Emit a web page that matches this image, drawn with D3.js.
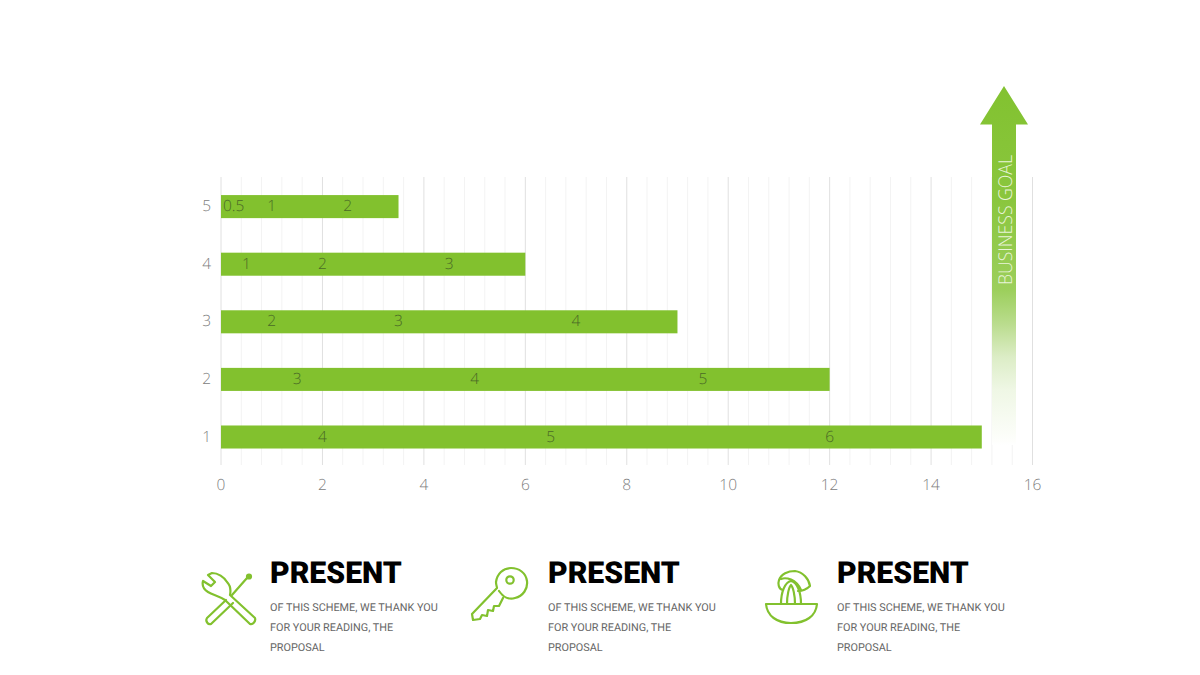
<!DOCTYPE html>
<html><head><meta charset="utf-8">
<script src="https://cdn.jsdelivr.net/npm/d3@7"></script>
<style>html,body{margin:0;background:#fff}svg{display:block;text-rendering:geometricPrecision}text{opacity:.995}</style></head>
<body><svg id="c" width="1200" height="675"></svg>
<script>
const categories=["1","2","3","4","5"];
const seriesA=[4,3,2,1,0.5];
const seriesB=[5,4,3,2,1];
const seriesC=[6,5,4,3,2];
const majorTicks=[0,2,4,6,8,10,12,14,16];
const minorTicks=d3.range(0,81).filter(i=>i%2===0).map(i=>i/5);
const arrowLabel="BUSINESS GOAL";
const panelTitles=["PRESENT","PRESENT","PRESENT"];
const panelLines=["OF THIS SCHEME, WE THANK YOU","FOR YOUR READING, THE","PROPOSAL"];

const GREEN="#82c12e";
const svg=d3.select("#c");
const x=d3.scaleLinear().domain([0,16]).range([221,1032.5]);
const y=d3.scaleBand().domain(categories).range([465.8,177.8]).paddingInner(0.6).paddingOuter(0.3);
const fontL="'Open Sans',sans-serif";

const defs=svg.append("defs");
const g=defs.append("linearGradient").attr("id","fade").attr("gradientUnits","userSpaceOnUse")
  .attr("x1",0).attr("x2",0).attr("y1",86).attr("y2",445);
[[86,"#82c230"],[200,"#8ac63e"],[290,"#9ccf5c"],[323,"#b9dc8c"],[357,"#dcedc6"],[390,"#eff7e5"],[440,"#fdfefb"],[445,"#ffffff"]]
 .forEach(s=>g.append("stop").attr("offset",(s[0]-86)/359).attr("stop-color",s[1]));

// grid
svg.append("g").selectAll("line").data(minorTicks).join("line")
  .attr("x1",d=>x(d)).attr("x2",d=>x(d)).attr("y1",177).attr("y2",465)
  .attr("stroke",d=>majorTicks.includes(d)?"#e0e0e0":"#f3f3f3").attr("stroke-width",1);

// arrow
svg.append("path").attr("d","M1004,86 L1028,124.5 L1016,124.5 L1016,445 L992,445 L992,124.5 L980,124.5 Z").attr("fill","url(#fade)");
svg.append("text").attr("transform","translate(1011.5,285) rotate(-90)").attr("font-family",fontL).attr("font-weight",300)
  .attr("font-size",19).attr("fill","#e9f5d8").attr("textLength",130).attr("lengthAdjust","spacingAndGlyphs").text(arrowLabel);

// bars
const totals=categories.map((c,i)=>seriesA[i]+seriesB[i]+seriesC[i]);
svg.append("g").selectAll("rect").data(categories).join("rect")
  .attr("x",x(0)).attr("y",c=>y(c)).attr("height",y.bandwidth())
  .attr("width",(c,i)=>x(totals[i])-x(0)).attr("fill",GREEN);

// segment labels
const rows=categories.flatMap((c,i)=>{
  let s=0;
  return [seriesA[i],seriesB[i],seriesC[i]].map(v=>{const m=s+v/2;s+=v;return {c,v,m};});
});
svg.append("g").selectAll("text").data(rows).join("text")
  .attr("x",d=>x(d.m)).attr("y",d=>y(d.c)+y.bandwidth()/2+4.5)
  .attr("text-anchor","middle").attr("font-family",fontL).attr("font-weight",300).attr("font-size",15.5)
  .attr("fill","#4a6a26").text(d=>d.v);

// axes labels
svg.append("g").selectAll("text").data(majorTicks).join("text")
  .attr("x",d=>x(d)).attr("y",490).attr("text-anchor","middle").attr("font-family",fontL).attr("font-weight",300)
  .attr("font-size",15.5).attr("fill","#808080").text(d=>d);
svg.append("g").selectAll("text").data(categories).join("text")
  .attr("x",211).attr("y",c=>y(c)+y.bandwidth()/2+4.5).attr("text-anchor","end").attr("font-family",fontL).attr("font-weight",300)
  .attr("font-size",15.5).attr("fill","#808080").text(c=>c);

// panels
const panelX=[270,548,837];
panelTitles.forEach((t,i)=>{
  svg.append("text").attr("x",panelX[i]).attr("y",583).attr("font-family","Roboto,sans-serif").attr("font-weight",900)
    .attr("font-size",30.2).attr("fill","#000").text(t);
  panelLines.forEach((l,j)=>svg.append("text").attr("x",panelX[i]).attr("y",611+j*20.2)
    .attr("font-family","Roboto,sans-serif").attr("font-weight",400).attr("font-size",10.85).attr("fill","#666").text(l));
});

// icons
const ic=svg.append("g").attr("fill","none").attr("stroke",GREEN).attr("stroke-width",2.2).attr("stroke-linejoin","round").attr("stroke-linecap","round");
// spanner & screwdriver
ic.append("path").attr("d","M212,573 L208,575 L215,582 L211,586 L203,581 C202,585 203,589 208,592 C213,595 219,596 225,600 L250,624 C253,625 256,621 255,618 L230,595 C231,590 230,585 227,582 C224,577 218,573 212,573 Z");
ic.append("path").attr("d","M226,600 L207,618 C205,621 208,625 211,624 L233,603");
ic.append("path").attr("d","M232,595 L247,578");
ic.append("circle").attr("cx",249).attr("cy",576.5).attr("r",2).attr("fill",GREEN);
// key
ic.append("path").attr("d","M499,591 C503,597 509,600 515,598 C523,596 528,589 527,581 C526,573 519,568 511,568 C503,568 497,574 496,582 C496,585 497,587 497,588 L472,614 L473,620 L480,619 L482,615 L487,616 L488,610 L493,611 L494,606 L499,606 L503,598");
ic.append("circle").attr("cx",510).attr("cy",580).attr("r",3.7);
// juicer
ic.append("path").attr("d","M766,604 L817,604 C816,616 806,623 791,623 C777,623 767,616 766,604 Z");
ic.append("path").attr("d","M781,604 C781,592 785,582 791,581 C797,582 801,592 801,604");
ic.append("path").attr("d","M787,604 C787,595 789,587 791,585 C793,587 795,595 795,604");
ic.append("path").attr("d","M783,590 C778,589 778,583 779,580 C781,574 788,571 795,571 C803,572 809,579 810,586 C806,590 802,591 798,591");
ic.append("path").attr("d","M781,579 C786,577 796,579 801,590");
</script></body></html>
